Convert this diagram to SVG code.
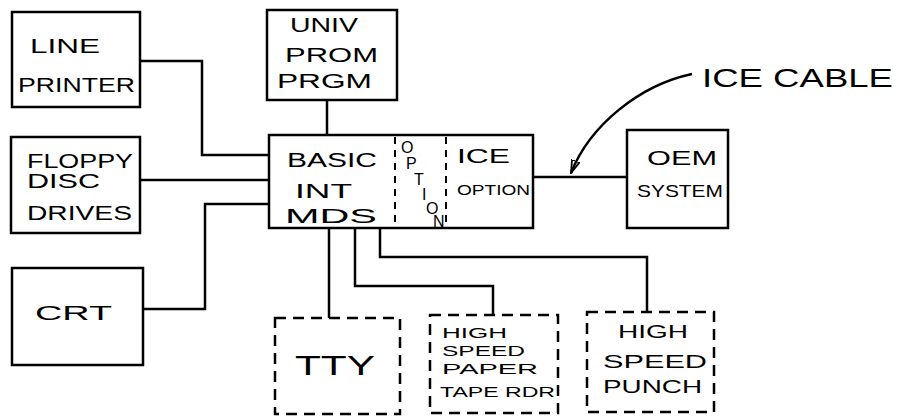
<svg xmlns="http://www.w3.org/2000/svg" width="900" height="419" viewBox="0 0 900 419">
<style>
.box{fill:none;stroke:#000;stroke-width:2.5}
.dbox{fill:none;stroke:#000;stroke-width:2.5;stroke-dasharray:11 7}
.div{stroke:#000;stroke-width:2;stroke-dasharray:7 6}
.wire{fill:none;stroke:#000;stroke-width:2.5}
text{font-family:"Liberation Sans",Arial,sans-serif;fill:#000;font-size:20px}
.s{font-size:14px}
.v{font-size:16px}
.h{font-size:15px}
</style>
<defs>
<marker id="ah" markerWidth="14" markerHeight="10" refX="13" refY="5" orient="auto" markerUnits="userSpaceOnUse">
<path d="M0,1 L13,5 L0,9 Z" fill="none" stroke="#000" stroke-width="1.8"/>
</marker>
</defs>
<rect width="900" height="419" fill="#fff"/>
<g id="connectors">
<path class="wire" d="M140,61 H202 V155 H269"/>
<path class="wire" d="M140,180 H269"/>
<path class="wire" d="M143,309 H205 V204 H269"/>
<path class="wire" d="M327,100 V135"/>
<path class="wire" d="M329,228 V318"/>
<path class="wire" d="M355,228 V286 H493 V315"/>
<path class="wire" d="M380,228 V257 H647 V312"/>
<path class="wire" d="M533,177 H627"/>
<path class="wire" d="M692,74 C640,85 590,125 571,173" marker-end="url(#ah)"/>
</g>
<g id="line-printer">
<rect class="box" x="12" y="12" width="128" height="95"/>
<text x="30" y="53" textLength="70" lengthAdjust="spacingAndGlyphs">LINE</text>
<text x="18" y="92" textLength="117" lengthAdjust="spacingAndGlyphs">PRINTER</text>
</g>
<g id="floppy">
<rect class="box" x="11" y="137" width="129" height="96"/>
<text x="27" y="168" textLength="106" lengthAdjust="spacingAndGlyphs">FLOPPY</text>
<text x="27" y="188" textLength="73" lengthAdjust="spacingAndGlyphs">DISC</text>
<text x="27" y="220" textLength="105" lengthAdjust="spacingAndGlyphs">DRIVES</text>
</g>
<g id="crt">
<rect class="box" x="12" y="268" width="131" height="97"/>
<text x="35" y="320" textLength="77" lengthAdjust="spacingAndGlyphs">CRT</text>
</g>
<g id="univ-prom">
<rect class="box" x="267" y="10" width="130" height="90"/>
<text x="290" y="32" textLength="68" lengthAdjust="spacingAndGlyphs">UNIV</text>
<text x="285" y="62" textLength="93" lengthAdjust="spacingAndGlyphs">PROM</text>
<text x="277" y="88" textLength="95" lengthAdjust="spacingAndGlyphs">PRGM</text>
</g>
<g id="mds">
<rect class="box" x="269" y="135" width="264" height="93"/>
<line class="div" x1="395" y1="137" x2="395" y2="226"/>
<line class="div" x1="446" y1="137" x2="446" y2="226"/>
<text x="287" y="167" textLength="90" lengthAdjust="spacingAndGlyphs">BASIC</text>
<text x="295" y="198" textLength="57" lengthAdjust="spacingAndGlyphs">INT</text>
<text x="285" y="223" textLength="92" lengthAdjust="spacingAndGlyphs">MDS</text>
<text class="v" x="401 406 414 422 426 433" y="153 169 185 200 214 227">OPTION</text>
<text x="457" y="163" textLength="53" lengthAdjust="spacingAndGlyphs">ICE</text>
<text class="s" x="457" y="195" textLength="73" lengthAdjust="spacingAndGlyphs">OPTION</text>
</g>
<g id="oem">
<rect class="box" x="627" y="130" width="101" height="98"/>
<text x="647" y="165" textLength="70" lengthAdjust="spacingAndGlyphs">OEM</text>
<text x="637" y="197" textLength="86" lengthAdjust="spacingAndGlyphs" style="font-size:17px">SYSTEM</text>
</g>
<g id="ice-cable-label">
<text x="702" y="87" textLength="191" lengthAdjust="spacingAndGlyphs" style="font-size:26px">ICE CABLE</text>
</g>
<g id="tty">
<rect class="dbox" x="275" y="318" width="125" height="96"/>
<text x="295" y="375" textLength="80" lengthAdjust="spacingAndGlyphs" style="font-size:28px">TTY</text>
</g>
<g id="paper-tape">
<rect class="dbox" x="430" y="315" width="128" height="98"/>
<text class="h" x="442" y="338" textLength="65" lengthAdjust="spacingAndGlyphs">HIGH</text>
<text class="h" x="442" y="356" textLength="83" lengthAdjust="spacingAndGlyphs">SPEED</text>
<text class="h" x="442" y="374" textLength="96" lengthAdjust="spacingAndGlyphs">PAPER</text>
<text class="h" x="440" y="397" textLength="115" lengthAdjust="spacingAndGlyphs">TAPE RDR</text>
</g>
<g id="punch">
<rect class="dbox" x="587" y="312" width="127" height="100"/>
<text x="618" y="338" textLength="70" lengthAdjust="spacingAndGlyphs" style="font-size:18px">HIGH</text>
<text x="603" y="368" textLength="104" lengthAdjust="spacingAndGlyphs" style="font-size:18px">SPEED</text>
<text x="603" y="393" textLength="99" lengthAdjust="spacingAndGlyphs" style="font-size:18px">PUNCH</text>
</g>
</svg>
